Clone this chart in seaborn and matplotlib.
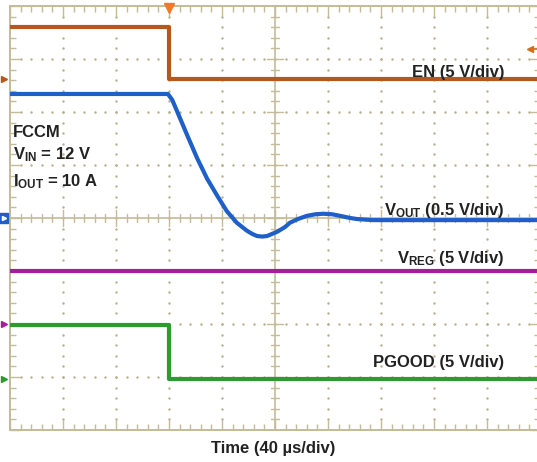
import numpy as np
import pandas as pd
import seaborn as sns
import matplotlib.pyplot as plt

# scope screen in divisions: 10 across, 8 down (bottom = 0)
en_t = [0, 3.0, 3.0, 10]
en_v = [7.6, 7.6, 6.62, 6.62]

vout_t = [0, 2.98, 3.06, 3.15, 3.34, 3.53, 3.72, 3.91, 4.09, 4.28, 4.47, 4.57, 4.66,
          4.76, 4.85, 5.04, 5.19, 5.28, 5.43, 5.6, 5.76, 5.91, 6.08, 6.23, 6.42,
          6.55, 6.85, 7.17, 10]
vout_v = [6.34, 6.34, 6.23, 6.02, 5.57, 5.13, 4.74, 4.42, 4.13, 3.91, 3.76, 3.70, 3.66,
          3.65, 3.66, 3.74, 3.83, 3.91, 3.98, 4.04, 4.07, 4.08, 4.07, 4.04, 4.0,
          3.98, 3.96, 3.96, 3.96]

vreg_t = [0, 10]
vreg_v = [3.0, 3.0]

pgood_t = [0, 3.0, 3.0, 10]
pgood_v = [1.98, 1.98, 0.97, 0.97]

trace_names = ['EN', 'VOUT', 'VREG', 'PGOOD']
trace_colors = ['#B5581C', '#1F5FC8', '#A51C9E', '#2E9B2E']
ground_levels = [6.62, 4.0, 2.0, 0.96]

df = pd.concat([
    pd.DataFrame({'t': en_t, 'v': en_v, 'trace': 'EN'}),
    pd.DataFrame({'t': vout_t, 'v': vout_v, 'trace': 'VOUT'}),
    pd.DataFrame({'t': vreg_t, 'v': vreg_v, 'trace': 'VREG'}),
    pd.DataFrame({'t': pgood_t, 'v': pgood_v, 'trace': 'PGOOD'}),
], ignore_index=True)

sns.set_theme(style='white')
plt.rcParams['font.family'] = ['Liberation Sans', 'DejaVu Sans']
plt.rcParams['mathtext.fontset'] = 'custom'
plt.rcParams['mathtext.rm'] = 'Liberation Sans:bold'
plt.rcParams['mathtext.it'] = 'Liberation Sans:bold'
plt.rcParams['mathtext.bf'] = 'Liberation Sans:bold'
plt.rcParams['mathtext.default'] = 'rm'

grid_c = '#C4BB98'
dot_c = '#B8AF8C'
txt_c = '#222222'

fig = plt.figure(figsize=(5.37, 4.62), dpi=100)
ax = fig.add_axes([10 / 537, 32 / 462, 530 / 537, 424 / 462])
ax.set_xlim(0, 10)
ax.set_ylim(0, 8)

# dotted graticule
for gx in range(1, 10):
    if gx == 5:
        continue
    ys = np.arange(0.2, 8, 0.2)
    ax.scatter(np.full_like(ys, gx), ys, s=3, color=dot_c, linewidths=0, zorder=1)
for gy in range(1, 8):
    if gy == 4:
        continue
    xs = np.arange(0.2, 10, 0.2)
    ax.scatter(xs, np.full_like(xs, gy), s=3, color=dot_c, linewidths=0, zorder=1)

# centre cross with ticks
ax.axvline(5, color=grid_c, lw=1.2, zorder=1)
ax.axhline(4, color=grid_c, lw=1.2, zorder=1)
for xt in np.arange(0.2, 10, 0.2):
    h = 0.15 if abs(xt - round(xt)) < 1e-6 else 0.075
    ax.plot([xt, xt], [4 - h, 4 + h], color=grid_c, lw=1, zorder=1)
for yt in np.arange(0.2, 8, 0.2):
    h = 0.15 if abs(yt - round(yt)) < 1e-6 else 0.075
    ax.plot([5 - h, 5 + h], [yt, yt], color=grid_c, lw=1, zorder=1)

# border ticks
ax.set_xticks(range(11))
ax.set_yticks(range(9))
ax.set_xticks(np.arange(0, 10.01, 0.2), minor=True)
ax.set_yticks(np.arange(0, 8.01, 0.2), minor=True)
ax.tick_params(which='both', direction='in', top=True, right=True, bottom=True, left=True,
               labelbottom=False, labelleft=False, colors=grid_c, width=1)
ax.tick_params(which='major', length=7)
ax.tick_params(which='minor', length=4)
for sp in ax.spines.values():
    sp.set_color(grid_c)
    sp.set_linewidth(1.4)

# traces
sns.lineplot(data=df, x='t', y='v', hue='trace', hue_order=trace_names,
             palette=trace_colors, estimator=None, sort=False, lw=3,
             legend=False, ax=ax, zorder=3)
for ln in ax.get_lines()[-4:]:
    ln.set_solid_joinstyle('round')
    ln.set_solid_capstyle('butt')
ax.set_xlabel('')
ax.set_ylabel('')

# channel ground markers on the left edge
for lvl, col in zip(ground_levels, trace_colors):
    if col == '#1F5FC8':
        ax.plot(-0.13, lvl, marker='s', ms=7, color=col, clip_on=False, zorder=5)
        ax.plot(-0.11, lvl, marker='>', ms=3, color='white', clip_on=False, zorder=6)
    else:
        ax.plot(-0.12, lvl, marker='>', ms=5, color=col, clip_on=False, zorder=5)
# trigger position and level
ax.plot(3.0, 7.96, marker='v', ms=7, color='#F07828', clip_on=False, zorder=5)
ax.plot(9.81, 7.19, marker='<', ms=4, color='#D0701E', zorder=5)
ax.plot([9.81, 9.95], [7.19, 7.19], color='#D0701E', lw=1.2, zorder=5)

# annotations
fs = 12
ax.text(0.05, 5.62, 'FCCM', fontsize=fs, fontweight='bold', color=txt_c, va='center')
ax.text(0.05, 5.19, r'V$_{IN}$ = 12 V', fontsize=fs, fontweight='bold', color=txt_c, va='center')
ax.text(0.05, 4.68, r'I$_{OUT}$ = 10 A', fontsize=fs, fontweight='bold', color=txt_c, va='center')
ax.text(9.33, 6.74, 'EN (5 V/div)', fontsize=fs, fontweight='bold', color=txt_c, ha='right', va='center')
ax.text(9.33, 4.14, r'V$_{OUT}$ (0.5 V/div)', fontsize=fs, fontweight='bold', color=txt_c, ha='right', va='center')
ax.text(9.33, 3.24, r'V$_{REG}$ (5 V/div)', fontsize=fs, fontweight='bold', color=txt_c, ha='right', va='center')
ax.text(9.33, 1.28, 'PGOOD (5 V/div)', fontsize=fs, fontweight='bold', color=txt_c, ha='right', va='center')

fig.text(273.5 / 537, 1 - 449 / 462, 'Time (40 µs/div)', fontsize=fs, fontweight='bold',
         color=txt_c, ha='center', va='center')

fig.savefig('out.png', dpi=100)
